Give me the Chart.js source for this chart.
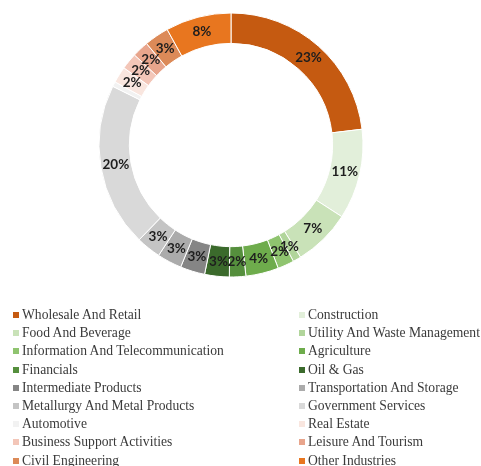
<!DOCTYPE html>
<html>
<head>
<meta charset="utf-8">
<script src="https://cdn.jsdelivr.net/npm/chart.js@4.4.1/dist/chart.umd.min.js"></script>
<style>
  html, body { margin: 0; padding: 0; background: #ffffff; }
  body { width: 481px; height: 466px; position: relative; overflow: hidden; }
  #wrap { position: absolute; left: 91px; top: 5px; width: 280px; height: 280px; }
  #legend { position: absolute; left: 0; top: 0; width: 481px; height: 466px;
            font-family: "Liberation Serif", "Times New Roman", serif; font-size: 13.6px; color: #3a3a3a; }
  .item { position: absolute; white-space: nowrap; height: 18px; line-height: 18px; }
  .sw { display: inline-block; width: 6px; height: 6px; margin-right: 3px; vertical-align: 1px; }
</style>
</head>
<body>
<div id="wrap"><canvas id="chart"></canvas></div>
<div id="legend"></div>
<script>
// Sectors, in legend order (row by row, two columns)
const sectors = [
  "Wholesale And Retail", "Construction",
  "Food And Beverage", "Utility And Waste Management",
  "Information And Telecommunication", "Agriculture",
  "Financials", "Oil & Gas",
  "Intermediate Products", "Transportation And Storage",
  "Metallurgy And Metal Products", "Government Services",
  "Automotive", "Real Estate",
  "Business Support Activities", "Leisure And Tourism",
  "Civil Engineering", "Other Industries"
];

// Share of each sector, in percent
const shares = [23, 11, 7, 1, 2, 4, 2, 3, 3, 3, 3, 20, 0.6, 2, 2, 2, 3, 8];

// Fill colour of each sector
const sectorColors = [
  "#c55a11", "#e2efda",
  "#c9e2b8", "#b1d59b",
  "#8fc46f", "#6eac4c",
  "#558f3d", "#3b6a2c",
  "#858585", "#ababab",
  "#c4c4c4", "#d9d9d9",
  "#f2f2f2", "#f9e6df",
  "#f3c6b8", "#e8a58c",
  "#dc8a58", "#e8761f"
];

// Percentage labels written at the middle of each ring segment
const arcLabels = {
  id: "arcLabels",
  afterDatasetsDraw(chart) {
    const ctx = chart.ctx;
    const meta = chart.getDatasetMeta(0);
    ctx.save();
    ctx.font = "bold 13.5px Lato, 'Open Sans', sans-serif";
    ctx.fillStyle = "#1e1e1e";
    ctx.textAlign = "center";
    ctx.textBaseline = "middle";
    meta.data.forEach((arc, i) => {
      const v = shares[i];
      if (v < 1) return;
      const p = arc.tooltipPosition(true);
      ctx.fillText(Math.round(v) + "%", p.x, p.y);
    });
    ctx.restore();
  }
};

new Chart(document.getElementById("chart"), {
  type: "doughnut",
  data: {
    labels: sectors,
    datasets: [{
      data: shares,
      backgroundColor: sectorColors,
      borderColor: "#ffffff",
      borderWidth: 1,
      hoverOffset: 0
    }]
  },
  options: {
    responsive: true,
    maintainAspectRatio: false,
    animation: false,
    radius: 132,
    cutout: "77%",
    layout: { padding: 0 },
    plugins: {
      legend: { display: false },
      tooltip: { enabled: false }
    }
  },
  plugins: [arcLabels]
});

// Two-column legend under the ring
const legend = document.getElementById("legend");
const colLeft = [13, 299];
const firstRowTop = 306;
const rowStep = 18.2;
sectors.forEach((name, i) => {
  const row = Math.floor(i / 2), col = i % 2;
  const item = document.createElement("div");
  item.className = "item";
  item.style.left = colLeft[col] + "px";
  item.style.top = (firstRowTop + row * rowStep) + "px";
  const sw = document.createElement("span");
  sw.className = "sw";
  sw.style.background = sectorColors[i];
  item.appendChild(sw);
  item.appendChild(document.createTextNode(name));
  legend.appendChild(item);
});
</script>
</body>
</html>
